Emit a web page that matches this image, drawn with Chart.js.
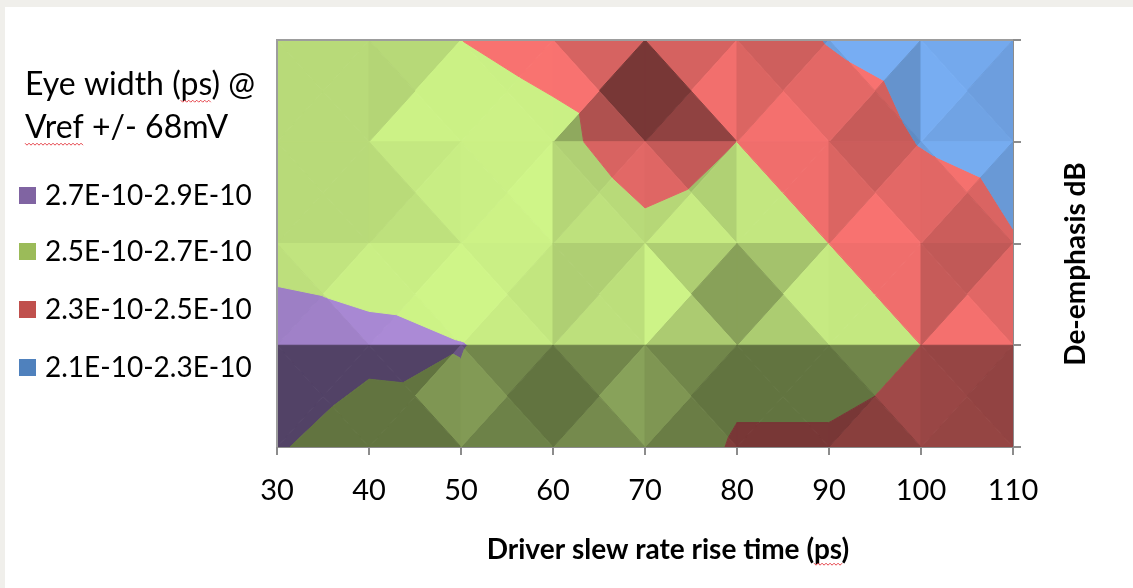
<!DOCTYPE html>
<html>
<head>
<meta charset="utf-8">
<title>Eye width vs driver slew rate and de-emphasis</title>
<script src="https://cdn.jsdelivr.net/npm/chart.js@4.4.1/dist/chart.umd.min.js"></script>
<style>
  html, body { margin: 0; padding: 0; background: #f0efeb; }
  body { width: 1133px; height: 588px; overflow: hidden; position: relative; }
  #card { position: absolute; left: 5px; top: 7px; width: 1128px; height: 581px; background: #fff; }
  canvas { display: block; }
</style>
</head>
<body>
<div id="card"><canvas id="eyeChart" width="1128" height="581"></canvas></div>
<script>
// driver rise time (ps) along x, de-emphasis steps along y (top row first)
var riseTimes = [30, 40, 50, 60, 70, 80, 90, 100, 110];
var emphasisSteps = [0, 1, 2, 3, 4];

// eye width in ps at Vref +/- 68mV, one array per de-emphasis step
var eyeRow0 = [258, 258, 250, 245, 247, 243, 229, 224, 222];
var eyeRow1 = [260, 260, 258.5, 254, 242, 250, 244, 229, 224];
var eyeRow2 = [262, 262, 263, 263, 254.3, 256, 250, 246.2, 231];
var eyeRow3 = [281, 274, 270.3, 266, 260, 253.8, 253.8, 250, 244];
var eyeRow4 = [271.3, 262, 268, 261, 258, 248.8, 248.8, 247.4, 241];

// contour bands (ps) and their legend text
var bandLabels = ['2.7E-10-2.9E-10', '2.5E-10-2.7E-10', '2.3E-10-2.5E-10', '2.1E-10-2.3E-10'];
var bandLow = [270, 250, 230, 210];
var bandHigh = [290, 270, 250, 230];

var eyeRows = [eyeRow0, eyeRow1, eyeRow2, eyeRow3, eyeRow4];
var legendColors = ['#8064A2', '#9BBB59', '#C0504D', '#4F81BD'];
var surfaceColors = [[136, 110, 170], [163, 193, 107], [200, 92, 90], [96, 140, 196]];
var light = [0.15, -0.6, 0.786];
var slopeScale = 0.1;

// keep the part of a polygon above (or below) a level, cutting edges linearly
function clipPoly(poly, level, keepAbove) {
  var out = [];
  for (var i = 0; i < poly.length; i++) {
    var a = poly[i], b = poly[(i + 1) % poly.length];
    var da = keepAbove ? a.z - level : level - a.z;
    var db = keepAbove ? b.z - level : level - b.z;
    if (da >= 0) out.push(a);
    if ((da >= 0) !== (db >= 0)) {
      var t = da / (da - db);
      out.push({ x: a.x + t * (b.x - a.x), y: a.y + t * (b.y - a.y), z: a.z + t * (b.z - a.z) });
    }
  }
  return out;
}

// brightness of a facet, lit from above (top of the plot) and a little from the right
function shadeOf(p1, p2, p3) {
  var colStep = riseTimes[1] - riseTimes[0];
  var du2 = (p2.x - p1.x) / colStep, dv2 = p2.y - p1.y, dz2 = p2.z - p1.z;
  var du3 = (p3.x - p1.x) / colStep, dv3 = p3.y - p1.y, dz3 = p3.z - p1.z;
  var det = du2 * dv3 - du3 * dv2;
  var gx = (dz2 * dv3 - dz3 * dv2) / det;
  var gy = (du2 * dz3 - du3 * dz2) / det;
  var nx = -slopeScale * gx, ny = -slopeScale * gy;
  var len = Math.sqrt(nx * nx + ny * ny + 1);
  var d = (nx * light[0] + ny * light[1] + light[2]) / len;
  return Math.max(0.6, Math.min(1.3, d / light[2]));
}

function tint(rgb, f) {
  return 'rgb(' + rgb.map(function (v) { return Math.min(255, Math.round(v * f)); }).join(',') + ')';
}

var surfacePlugin = {
  id: 'eyeSurface',
  beforeDatasetsDraw: function (chart) {
    var ctx = chart.ctx, xs = chart.scales.x, ys = chart.scales.y, area = chart.chartArea;
    ctx.save();
    ctx.beginPath();
    ctx.rect(area.left, area.top, area.right - area.left, area.bottom - area.top);
    ctx.clip();
    ctx.lineJoin = 'round';
    ctx.lineWidth = 1;
    for (var r = 0; r < emphasisSteps.length - 1; r++) {
      for (var c = 0; c < riseTimes.length - 1; c++) {
        var tl = { x: riseTimes[c], y: emphasisSteps[r], z: eyeRows[r][c] };
        var tr = { x: riseTimes[c + 1], y: emphasisSteps[r], z: eyeRows[r][c + 1] };
        var bl = { x: riseTimes[c], y: emphasisSteps[r + 1], z: eyeRows[r + 1][c] };
        var br = { x: riseTimes[c + 1], y: emphasisSteps[r + 1], z: eyeRows[r + 1][c + 1] };
        var mid = { x: (tl.x + tr.x) / 2, y: (tl.y + bl.y) / 2, z: (tl.z + tr.z + bl.z + br.z) / 4 };
        var facets = [[tl, tr, mid], [tr, br, mid], [br, bl, mid], [bl, tl, mid]];
        facets.forEach(function (tri) {
          var f = shadeOf(tri[0], tri[1], tri[2]);
          for (var b = 0; b < bandLow.length; b++) {
            var poly = clipPoly(clipPoly(tri, bandLow[b], true), bandHigh[b], false);
            if (poly.length < 3) continue;
            var col = tint(surfaceColors[b], f);
            ctx.beginPath();
            poly.forEach(function (p, i) {
              var px = xs.getPixelForValue(p.x), py = ys.getPixelForValue(p.y);
              if (i === 0) ctx.moveTo(px, py); else ctx.lineTo(px, py);
            });
            ctx.closePath();
            ctx.fillStyle = col;
            ctx.strokeStyle = col;
            ctx.fill();
            ctx.stroke();
          }
        });
      }
    }
    ctx.restore();
  }
};

function squiggle(ctx, x0, x1, y) {
  ctx.save();
  ctx.beginPath();
  var k = 0;
  for (var x = x0; x <= x1; x += 2, k++) {
    var yy = y + (k % 2 ? 1.2 : -0.8);
    if (k === 0) ctx.moveTo(x, yy); else ctx.lineTo(x, yy);
  }
  ctx.strokeStyle = '#e5434a';
  ctx.lineWidth = 1;
  ctx.stroke();
  ctx.restore();
}

var annotatePlugin = {
  id: 'eyeAnnotations',
  afterDraw: function (chart) {
    var ctx = chart.ctx, area = chart.chartArea;
    ctx.save();
    // top and left frame of the plot
    ctx.strokeStyle = '#9d9d9d';
    ctx.lineWidth = 2;
    ctx.beginPath();
    ctx.moveTo(area.left, area.bottom);
    ctx.lineTo(area.left, area.top);
    ctx.lineTo(area.right, area.top);
    ctx.stroke();

    // legend
    ctx.fillStyle = '#000';
    ctx.textBaseline = 'alphabetic';
    ctx.textAlign = 'left';
    ctx.font = '32px Lato';
    ctx.fillText('Eye width (ps) @', 20, 88);
    ctx.fillText('Vref +/- 68mV', 20, 131);
    var psStart = 20 + ctx.measureText('Eye width (').width;
    squiggle(ctx, psStart, psStart + ctx.measureText('ps').width, 94);
    squiggle(ctx, 20, 20 + ctx.measureText('Vref').width, 137);

    var itemBase = [198, 254, 312, 370];
    ctx.font = '28px Lato';
    for (var i = 0; i < bandLabels.length; i++) {
      ctx.fillStyle = legendColors[i];
      ctx.fillRect(14, itemBase[i] - 18, 17, 17);
      ctx.fillStyle = '#000';
      ctx.fillText(bandLabels[i], 40, itemBase[i]);
    }

    // axis titles
    ctx.font = 'bold 28px Lato';
    ctx.textAlign = 'center';
    var xTitle = 'Driver slew rate rise time (ps)';
    ctx.fillText(xTitle, 663, 552);
    var tw = ctx.measureText(xTitle).width;
    var ps0 = 663 - tw / 2 + ctx.measureText('Driver slew rate rise time (').width;
    squiggle(ctx, ps0, ps0 + ctx.measureText('ps').width, 557);

    ctx.translate(1071, 257);
    ctx.rotate(-Math.PI / 2);
    ctx.textBaseline = 'middle';
    ctx.fillText('De-emphasis dB', 0, 0);
    ctx.restore();
  }
};

var axisGray = '#8c8c8c';

new Chart(document.getElementById('eyeChart').getContext('2d'), {
  type: 'scatter',
  data: { datasets: [] },
  plugins: [surfacePlugin, annotatePlugin],
  options: {
    responsive: false,
    animation: false,
    events: [],
    layout: { padding: { left: 272, top: 33, right: 0, bottom: 0 } },
    plugins: { legend: { display: false }, tooltip: { enabled: false } },
    scales: {
      x: {
        type: 'linear', position: 'bottom', min: 30, max: 110, z: 1,
        ticks: { stepSize: 10, color: '#000', font: { family: 'Lato', size: 29 }, padding: 18, maxRotation: 0, autoSkip: false },
        grid: { drawOnChartArea: false, drawTicks: true, tickLength: 8, color: axisGray, lineWidth: 2 },
        border: { display: true, color: axisGray, width: 2 },
        afterFit: function (s) { s.height = 141; }
      },
      y: {
        type: 'linear', position: 'right', min: 0, max: 4, reverse: true, z: 1,
        ticks: { stepSize: 1, display: false },
        grid: { drawOnChartArea: false, drawTicks: true, tickLength: 8, color: axisGray, lineWidth: 2 },
        border: { display: true, color: axisGray, width: 2 },
        afterFit: function (s) { s.width = 120; }
      }
    }
  }
});
</script>
</body>
</html>
